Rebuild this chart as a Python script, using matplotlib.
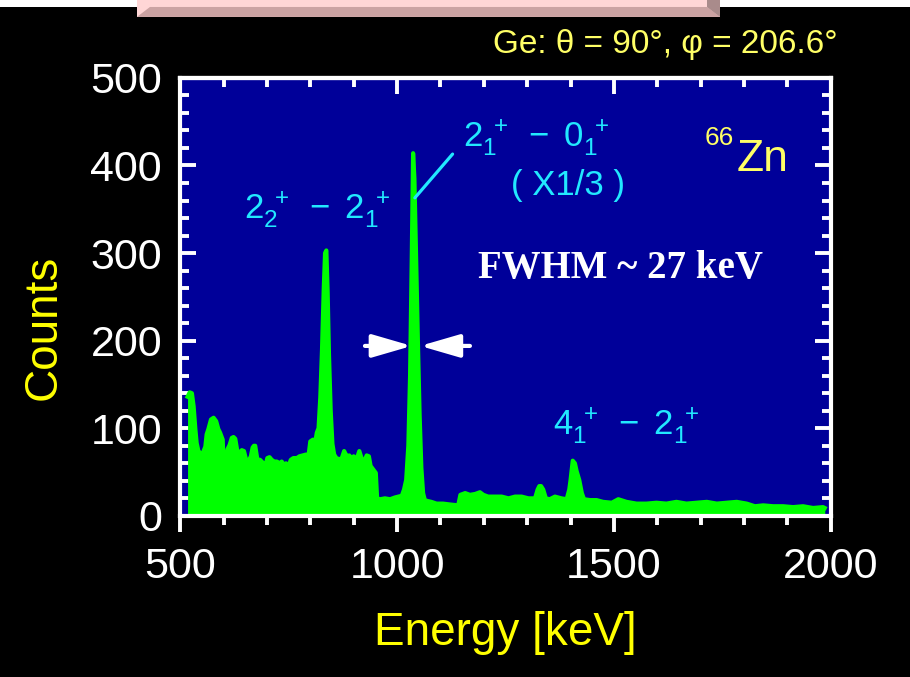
import matplotlib
matplotlib.use("Agg")
import matplotlib.pyplot as plt
from matplotlib.ticker import MultipleLocator
from matplotlib.patches import Rectangle, Polygon

plt.rcParams['font.family'] = ['Liberation Sans', 'DejaVu Sans']
plt.rcParams['mathtext.fontset'] = 'custom'
plt.rcParams['mathtext.rm'] = 'Liberation Sans'
plt.rcParams['mathtext.it'] = 'Liberation Sans'

# --- 66Zn gamma spectrum, Ge detector ---
energy_kev = [517, 522, 527, 531, 535, 538, 542, 546, 550, 554, 558, 561, 565, 571, 577,
              583, 588, 592, 598, 600, 606, 609, 614, 619, 623, 627, 631, 637, 642, 647,
              652, 657, 663, 667, 670, 673, 678, 684, 690, 696, 701, 706, 711, 717, 723,
              729, 734, 740, 744, 750, 755, 761, 769, 775, 783, 790, 796, 800, 806, 811,
              815, 819, 823, 827, 831, 834, 837, 840, 843, 847, 851, 855, 860, 865, 872,
              878, 884, 890, 895, 900, 907, 913, 918, 924, 930, 935, 939, 945, 951, 954,
              961, 972, 984, 995, 1003, 1011, 1016, 1021, 1026, 1030, 1034, 1037, 1040, 1044, 1048,
              1052, 1056, 1060, 1064, 1070, 1079, 1091, 1106, 1122, 1141, 1146, 1157, 1168, 1180, 1191,
              1199, 1210, 1226, 1241, 1257, 1272, 1287, 1303, 1318, 1324, 1328, 1332, 1337, 1343, 1352,
              1364, 1379, 1391, 1397, 1400, 1405, 1410, 1414, 1420, 1426, 1431, 1445, 1460, 1475, 1495,
              1510, 1529, 1552, 1575, 1598, 1621, 1644, 1667, 1691, 1714, 1737, 1760, 1783, 1806, 1825,
              1844, 1867, 1890, 1913, 1936, 1959, 1982, 1986]
counts = [136, 141, 140, 125, 99, 83, 74, 72, 66, 74, 79, 93, 99, 110, 112,
          108, 99, 95, 87, 64, 64, 76, 81, 89, 90, 88, 76, 70, 75, 74,
          64, 62, 68, 78, 80, 80, 64, 64, 61, 56, 66, 67, 64, 62, 62,
          60, 62, 58, 60, 57, 64, 66, 66, 68, 69, 70, 69, 85, 87, 83,
          95, 100, 135, 190, 260, 300, 303, 255, 185, 120, 82, 70, 66, 65, 65,
          74, 68, 69, 65, 68, 65, 74, 66, 62, 69, 68, 57, 53, 49, 20,
          19, 20, 19, 21, 22, 23, 30, 41, 80, 160, 300, 414, 385, 290, 200,
          115, 55, 26, 18, 17, 16, 14, 14, 13, 12, 24, 26, 24, 25, 27,
          24, 22, 22, 22, 20, 22, 22, 20, 20, 30, 34, 34, 30, 20, 19,
          22, 20, 19, 30, 41, 63, 60, 51, 41, 26, 19, 18, 18, 16, 15,
          19, 16, 14, 14, 15, 14, 16, 14, 15, 16, 14, 15, 16, 14, 11,
          12, 11, 11, 10, 11, 9, 10, 9]

GREEN = '#00FF00'
CYAN = '#22E8FF'
PALE_YELLOW = '#FFFF66'

fig = plt.figure(figsize=(9.1, 6.77), dpi=100, facecolor='black')

# strip and bevelled box along the top edge
fig.patches.append(Rectangle((0, 0.9897), 1, 0.0103, transform=fig.transFigure,
                             facecolor='white', edgecolor='none'))
fig.patches.append(Rectangle((0.1505, 0.975), 0.641, 0.025, transform=fig.transFigure,
                             facecolor='#FFD6D6', edgecolor='none'))
fig.patches.append(Polygon([(0.1505, 0.975), (0.7912, 0.975), (0.7770, 0.9897), (0.1648, 0.9897)],
                           closed=True, transform=fig.transFigure,
                           facecolor='#CBA3A3', edgecolor='none'))
fig.patches.append(Polygon([(0.7770, 0.9897), (0.7770, 1.0), (0.7912, 1.0), (0.7912, 0.975)],
                           closed=True, transform=fig.transFigure,
                           facecolor='#A98B8B', edgecolor='none'))

ax = fig.add_axes([0.198, 0.238, 0.715, 0.647])
ax.set_facecolor('#000099')

ax.fill_between(energy_kev, counts, 0, color=GREEN, lw=0, zorder=2)
ax.plot(energy_kev, counts, color=GREEN, lw=3, zorder=2)

ax.set_xlim(500, 2000)
ax.set_ylim(0, 500)
ax.xaxis.set_major_locator(MultipleLocator(500))
ax.xaxis.set_minor_locator(MultipleLocator(100))
ax.yaxis.set_major_locator(MultipleLocator(100))
ax.yaxis.set_minor_locator(MultipleLocator(20))

for sp in ax.spines.values():
    sp.set_color('white')
    sp.set_linewidth(3)
    sp.set_zorder(5)

ax.tick_params(axis='x', which='both', direction='out', top=False, colors='white',
               width=2.8, labelsize=31, pad=11)
ax.tick_params(axis='y', which='both', direction='in', left=True, right=True,
               colors='white', width=2.8, labelsize=31, pad=13)
ax.tick_params(which='major', length=11.5)
ax.tick_params(which='minor', length=6.5)

# inward ticks along the top edge
top = ax.secondary_xaxis('top')
top.xaxis.set_major_locator(MultipleLocator(500))
top.xaxis.set_minor_locator(MultipleLocator(100))
top.tick_params(which='both', direction='in', colors='white', width=2.8, labeltop=False)
top.tick_params(which='major', length=11.5)
top.tick_params(which='minor', length=6.5)
top.spines['top'].set_color('white')
top.spines['top'].set_linewidth(3)

ax.set_xlabel('Energy [keV]', color='yellow', fontsize=33, va='center')
ax.xaxis.set_label_coords(0.499, -0.267)
ax.set_ylabel('Counts', color='yellow', fontsize=33, va='center')
ax.yaxis.set_label_coords(-0.21, 0.43)

# transition labels
ax.text(816, 339, r'$\mathregular{2_2^{\ +}\ -\ 2_1^{\ +}}$', color=CYAN, fontsize=25,
        ha='center', va='baseline')
ax.text(1320, 422, r'$\mathregular{2_1^{\ +}\ -\ 0_1^{\ +}}$', color=CYAN, fontsize=25,
        ha='center', va='baseline')
ax.text(1394, 366, '( X1/3 )', color=CYAN, fontsize=25, ha='center', va='baseline')
ax.text(1528, 93, r'$\mathregular{4_1^{\ +}\ -\ 2_1^{\ +}}$', color=CYAN, fontsize=25,
        ha='center', va='baseline')
ax.plot([1128, 1041], [413, 363], color=CYAN, lw=2.3, solid_capstyle='round')

ax.text(1514, 282, 'FWHM ~ 27 keV', color='white', fontsize=28, fontweight='bold',
        family='Liberation Serif', ha='center', va='center')

# FWHM arrows on the main line
arrow = dict(arrowstyle='-|>,head_length=1.1,head_width=0.32', color='white', lw=3,
             mutation_scale=22, shrinkA=0, shrinkB=0)
ax.annotate('', xy=(1034, 194), xytext=(926, 194), arrowprops=arrow)
ax.annotate('', xy=(1053, 194), xytext=(1168, 194), arrowprops=arrow)

ax.text(1710, 423, '66', color=PALE_YELLOW, fontsize=19, ha='left', va='baseline')
ax.text(1783, 394, 'Zn', color=PALE_YELLOW, fontsize=32, ha='left', va='baseline')

fig.text(0.921, 0.922, 'Ge: θ = 90°, φ = 206.6°', color=PALE_YELLOW, fontsize=24,
         ha='right', va='baseline')

fig.savefig('out.png', dpi=100, facecolor='black')
